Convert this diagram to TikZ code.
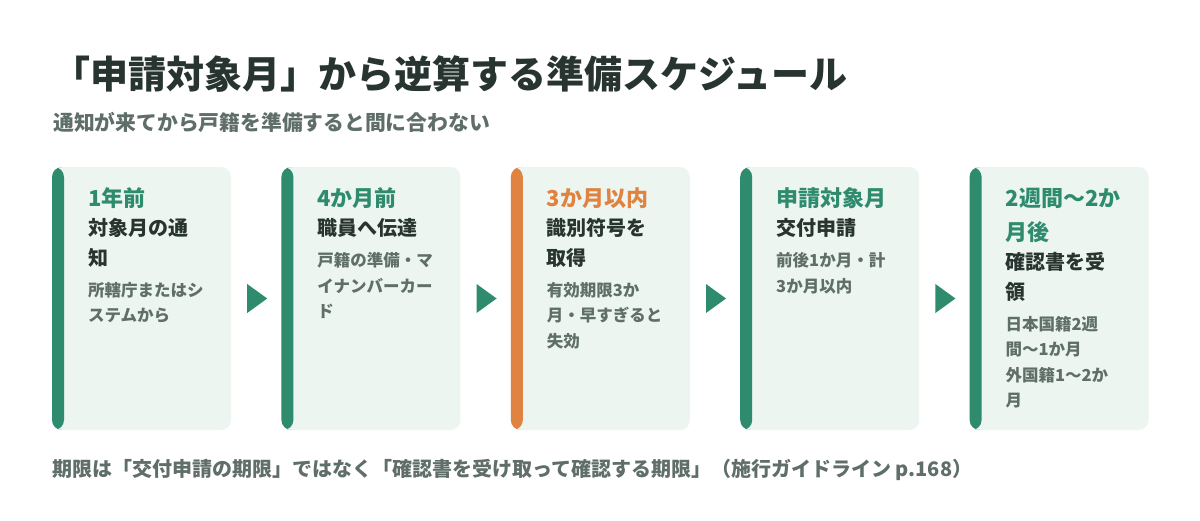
\documentclass[tikz,border=0pt]{standalone}
\usepackage{fontspec}
\setmainfont{Noto Sans CJK JP}
\usetikzlibrary{positioning,shapes.geometric}
\definecolor{accgreen}{RGB}{46,139,110}
\definecolor{accorange}{RGB}{224,130,64}
\definecolor{cardbg}{RGB}{236,245,240}
\definecolor{ink}{RGB}{40,52,47}
\definecolor{note}{RGB}{95,110,104}
\newcommand{\hdfont}{\fontsize{22}{34}\selectfont}
\newcommand{\ttlfont}{\fontsize{20}{29.5}\selectfont}
\newcommand{\notefont}{\fontsize{16.5}{25.5}\selectfont}

\begin{document}
\begin{tikzpicture}[x=1pt, y=-1pt,
	card/.style={fill=cardbg, rounded corners=10pt, minimum width=179pt, minimum height=263pt, inner sep=0pt,
		path picture={\fill[#1] (path picture bounding box.north west) rectangle ([xshift=12pt]path picture bounding box.south west);}},
	cardtext/.style={anchor=north west, inner sep=0pt, text width=140pt, align=left, font=\bfseries,
		execute at begin node=\setlength{\parindent}{0pt}},
	tri/.style={isosceles triangle, isosceles triangle stretches, fill=accgreen, minimum width=29pt, minimum height=20pt, inner sep=0pt, outer sep=0pt},
	node distance=50pt]

	\fill[white] (0,0) rectangle (1200,520);
	\useasboundingbox (0,0) rectangle (1200,520);

	\node[anchor=base west, inner sep=0pt, text=ink, font=\bfseries\fontsize{38}{44}\selectfont] (title) at (52,88.5) {「申請対象月」から逆算する準備スケジュール};
	\node[anchor=base west, inner sep=0pt, text=note, font=\bfseries\fontsize{20.8}{26}\selectfont] (sub) at (53,130) {通知が来てから戸籍を準備すると間に合わない};

	\node[card=accgreen] (c1) at (141.5,298.5) {};
	\node[card=accgreen, right=of c1] (c2) {};
	\node[card=accorange, right=of c2] (c3) {};
	\node[card=accgreen, right=of c3] (c4) {};
	\node[card=accgreen, right=of c4] (c5) {};

	\node[tri, right=16pt of c1] (a1) {};
	\node[tri, right=16pt of c2] (a2) {};
	\node[tri, right=16pt of c3] (a3) {};
	\node[tri, right=16pt of c4] (a4) {};

	\node[cardtext, below right=15.2pt and 36pt of c1.north west] (t1) {%
		{\hdfont\color{accgreen}\strut 1年前\par}
		{\ttlfont\color{ink}対象月の通\\知\par}
		\vspace{5.5pt}
		{\notefont\color{note}所轄庁またはシ\\ステムから\par}};
	\node[cardtext, below right=15.2pt and 36pt of c2.north west] (t2) {%
		{\hdfont\color{accgreen}\strut 4か月前\par}
		{\ttlfont\color{ink}職員へ伝達\par}
		\vspace{5.5pt}
		{\notefont\color{note}戸籍の準備・マ\\イナンバーカー\\ド\par}};
	\node[cardtext, below right=15.2pt and 36pt of c3.north west] (t3) {%
		{\hdfont\color{accorange}\strut 3か月以内\par}
		{\ttlfont\color{ink}識別符号を\\取得\par}
		\vspace{5.5pt}
		{\notefont\color{note}有効期限3か\\月・早すぎると\\失効\par}};
	\node[cardtext, below right=15.2pt and 36pt of c4.north west] (t4) {%
		{\hdfont\color{accgreen}\strut 申請対象月\par}
		{\ttlfont\color{ink}交付申請\par}
		\vspace{5.5pt}
		{\notefont\color{note}前後1か月・計\\3か月以内\par}};
	\node[cardtext, below right=15.2pt and 36pt of c5.north west] (t5) {%
		{\hdfont\color{accgreen}\strut 2週間〜2か\\月後\par}
		{\ttlfont\color{ink}確認書を受\\領\par}
		\vspace{5.5pt}
		{\notefont\color{note}日本国籍2週\\間〜1か月\\外国籍1〜2か\\月\par}};

	\node[anchor=base west, inner sep=0pt, text=note, font=\bfseries\fontsize{20}{24}\selectfont] (foot) at (52,476.5) {期限は「交付申請の期限」ではなく「確認書を受け取って確認する期限」（施行ガイドライン p.168）};

\end{tikzpicture}
\end{document}
